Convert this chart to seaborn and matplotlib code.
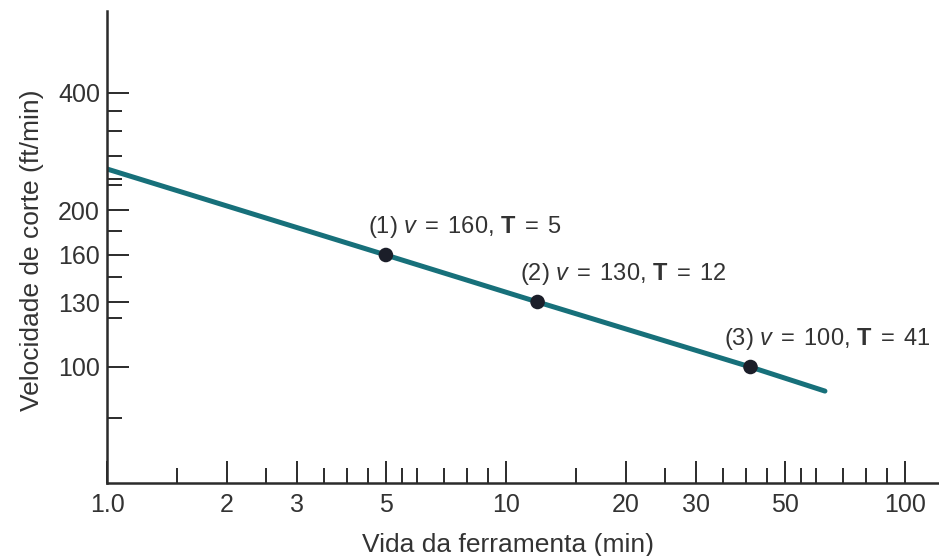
import numpy as np
import pandas as pd
import seaborn as sns
import matplotlib.pyplot as plt
from matplotlib.ticker import FixedLocator, FixedFormatter, NullFormatter

# --- data ---
tool_life = [5, 12, 41]          # T (min)
cut_speed = [160, 130, 100]      # v (ft/min)
point_labels = [
    r"(1) $v\;=\;160$, $\mathbf{T}\;=\;5$",
    r"(2) $v\;=\;130$, $\mathbf{T}\;=\;12$",
    r"(3) $v\;=\;100$, $\mathbf{T}\;=\;41$",
]

# fitted Taylor line as drawn (runs from T = 1 to about T = 63)
line_life = [1.0, 5, 12, 41, 63]
line_speed = [255, 160, 130, 100, 90]

x_major = [1, 2, 3, 5, 10, 20, 30, 50, 100]
x_major_labels = ["1.0", "2", "3", "5", "10", "20", "30", "50", "100"]
x_minor = [1.5, 2.5, 3.5, 4, 4.5, 5.5, 6, 7, 8, 9, 15, 25,
           35, 40, 45, 55, 60, 70, 80, 90]

y_major = [100, 130, 160, 200, 400]
y_major_labels = ["100", "130", "160", "200", "400"]
y_minor = [80, 122, 145, 180, 232, 240, 275, 320, 360]

# the printed speed axis is only roughly logarithmic: each value below is
# pinned to its height on the axis (0 = bottom, 472 = top)
scale_speed = [60, 80, 100, 130, 160, 200, 400, 650]
scale_height = [0, 65, 116, 181, 228, 273, 390, 472]

# label offsets from each point, in points
label_dx = [-13, -13, -19]

TEXT = "#333333"
AXIS = "#2b2b2b"
LINE = "#17707a"
DOT = "#1b1e29"

sns.set_style("white")
plt.rcParams["font.family"] = ["Liberation Sans", "DejaVu Sans"]
plt.rcParams["mathtext.fontset"] = "custom"
plt.rcParams["mathtext.rm"] = "Liberation Sans"
plt.rcParams["mathtext.it"] = "Liberation Sans:italic"
plt.rcParams["mathtext.bf"] = "Liberation Sans:bold"

log_speed = np.log10(scale_speed)


def speed_fwd(v):
    with np.errstate(divide="ignore", invalid="ignore"):
        return np.interp(np.log10(v), log_speed, scale_height)


def speed_inv(h):
    return 10 ** np.interp(h, scale_height, log_speed)


line_df = pd.DataFrame({"T": line_life, "v": line_speed})
pts_df = pd.DataFrame({"T": tool_life, "v": cut_speed})

fig = plt.figure(figsize=(9.39, 5.56), dpi=100)
ax = fig.add_axes([107 / 939, 73 / 556, 832 / 939, 472 / 556])

sns.lineplot(data=line_df, x="T", y="v", color=LINE, linewidth=3.6,
             sort=False, ax=ax)
sns.scatterplot(data=pts_df, x="T", y="v", color=DOT, s=110,
                edgecolor="none", zorder=3, ax=ax)

for t, v, lab, dx in zip(tool_life, cut_speed, point_labels, label_dx):
    ax.annotate(lab, xy=(t, v), xytext=(dx, 20), textcoords="offset points",
                ha="left", va="center", fontsize=17, color=TEXT)

ax.set_xscale("log")
ax.set_yscale("function", functions=(speed_fwd, speed_inv))
ax.set_xlim(1, 10 ** (832 / 399))
ax.set_ylim(60, 650)

ax.xaxis.set_major_locator(FixedLocator(x_major))
ax.xaxis.set_major_formatter(FixedFormatter(x_major_labels))
ax.xaxis.set_minor_locator(FixedLocator(x_minor))
ax.xaxis.set_minor_formatter(NullFormatter())
ax.yaxis.set_major_locator(FixedLocator(y_major))
ax.yaxis.set_major_formatter(FixedFormatter(y_major_labels))
ax.yaxis.set_minor_locator(FixedLocator(y_minor))
ax.yaxis.set_minor_formatter(NullFormatter())

ax.tick_params(which="both", direction="in", width=1.4, color=AXIS,
               bottom=True, left=True, top=False, right=False)
ax.tick_params(which="major", length=16, labelsize=18, labelcolor=TEXT)
ax.tick_params(which="minor", length=11)
ax.tick_params(axis="x", pad=7)
ax.tick_params(axis="y", pad=5)

ax.set_xlabel("Vida da ferramenta (min)", fontsize=19, color=TEXT)
ax.set_ylabel("Velocidade de corte (ft/min)", fontsize=19, color=TEXT)
ax.xaxis.set_label_coords(0.482, -0.106)
ax.yaxis.set_label_coords(-0.076, 0.494)

ax.spines[["top", "right"]].set_visible(False)
for side in ["left", "bottom"]:
    ax.spines[side].set_linewidth(1.8)
    ax.spines[side].set_color(AXIS)

fig.savefig("out.png", dpi=100)
